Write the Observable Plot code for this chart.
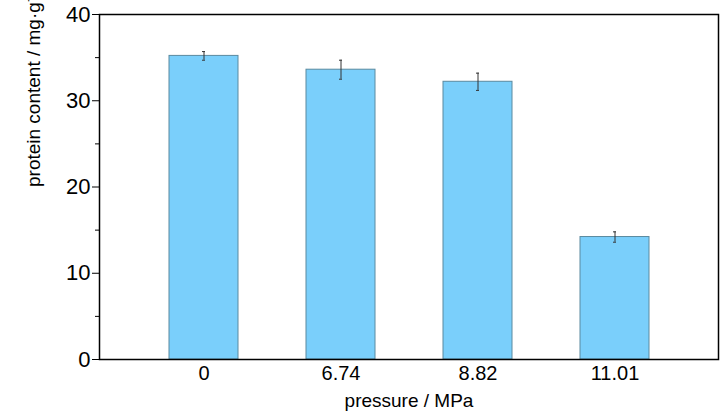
<!DOCTYPE html>
<html><head><meta charset="utf-8">
<script src="https://cdn.jsdelivr.net/npm/d3@7"></script>
<script src="https://cdn.jsdelivr.net/npm/@observablehq/plot@0.6"></script>
<style>body{margin:0;background:#fff;font-family:Arial,"Liberation Sans",sans-serif}</style>
</head><body><div id="c"></div>
<script>
const pressures = ["0", "6.74", "8.82", "11.01"];
const protein = [35.2, 33.6, 32.2, 14.2];
const errors = [0.5, 1.1, 1.0, 0.6];
const yMajor = [0, 10, 20, 30, 40];
const yMinor = [5, 15, 25, 35];
const data = pressures.map((p, i) => ({p, v: protein[i], e: errors[i]}));
const chart = Plot.plot({
  width: 728, height: 416,
  marginLeft: 99, marginRight: 10, marginTop: 14, marginBottom: 57,
  style: {fontSize: "20px", fontFamily: "Arial, 'Liberation Sans', sans-serif", color: "#000"},
  x: {domain: pressures, padding: 0.5, label: null, tickSize: 0, tickPadding: 6},
  y: {domain: [0, 40], label: null},
  marks: [
    Plot.barY(data, {x: "p", y: "v", fill: "#7acffb", stroke: "#5a8aa0", strokeWidth: 1}),
    Plot.ruleX(data, {x: "p", y1: d => d.v - d.e, y2: d => d.v + d.e, stroke: "#333", strokeWidth: 1}),
    Plot.tickY(data, {x: "p", y: d => d.v - d.e, stroke: "#333", inset: 33}),
    Plot.tickY(data, {x: "p", y: d => d.v + d.e, stroke: "#333", inset: 33}),
    Plot.axisY({ticks: yMajor, tickSize: 7, tickPadding: 2, fontSize: 22, label: null}),
    Plot.axisY({ticks: yMinor, tickSize: 4, tickFormat: () => "", label: null}),
    Plot.frame({stroke: "#000", strokeWidth: 1.5}),
    Plot.text(["protein content / mg·g⁻¹"], {frameAnchor: "left", dx: -66, rotate: -90, fontSize: 19}),
    Plot.text(["pressure / MPa"], {frameAnchor: "bottom", dy: 47, fontSize: 19})
  ]
});
document.getElementById("c").append(chart);
</script></body></html>
